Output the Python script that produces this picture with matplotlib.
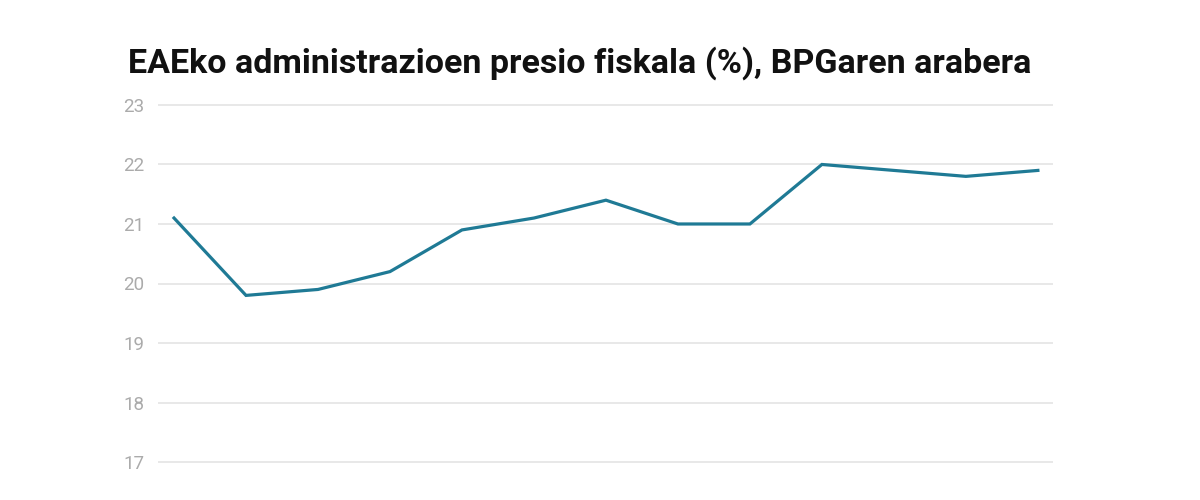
import matplotlib.pyplot as plt
import numpy as np

# data (x labels are cropped out)
points = np.arange(13)
values = [21.1, 19.8, 19.9, 20.2, 20.9, 21.1, 21.4, 21.0, 21.0, 22.0, 21.9, 21.8, 21.9]
yticks = [17, 18, 19, 20, 21, 22, 23]

plt.rcParams['font.family'] = ['Roboto', 'DejaVu Sans']

fig = plt.figure(figsize=(12, 5), dpi=100)
fig.patch.set_facecolor('white')
ax = fig.add_axes([0.1317, 0.064, 0.7458, 0.738])

ax.plot(points, values, color='#1f7a95', linewidth=2.3, solid_joinstyle='miter')

ax.set_xlim(-0.222, 12.21)
ax.set_ylim(16.9, 23.1)
ax.set_yticks(yticks)
ax.set_xticks([])
ax.grid(axis='y', color='#e4e4e4', linewidth=1.2)
ax.set_axisbelow(True)
for s in ax.spines.values():
    s.set_visible(False)
ax.tick_params(axis='y', length=0, pad=10, labelsize=13.5, labelcolor='#ababab')

fig.text(0.1067, 0.854, "EAEko administrazioen presio fiskala (%), BPGaren arabera",
         fontsize=24.5, fontweight='bold', color='#111111', va='baseline', ha='left')

fig.savefig('out.png', dpi=100, facecolor='white')
